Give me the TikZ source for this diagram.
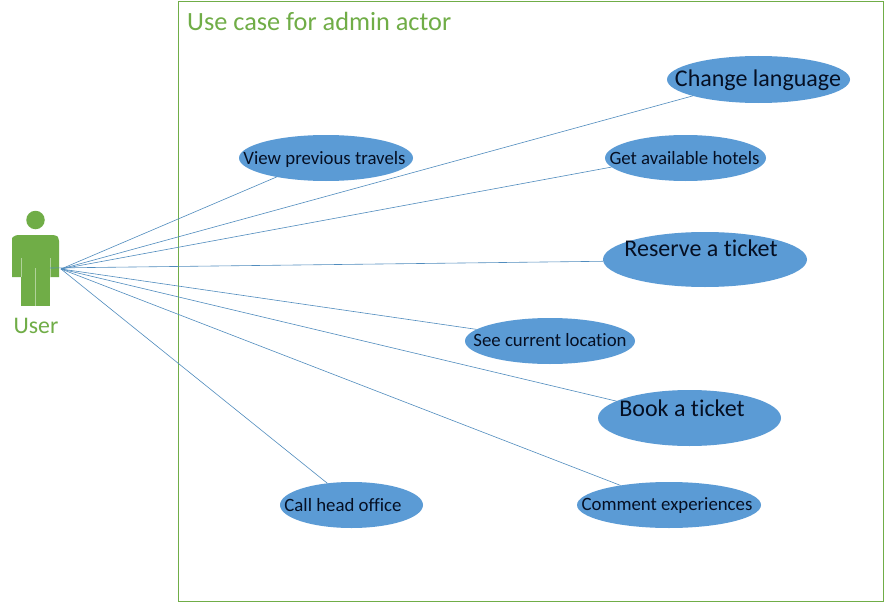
\documentclass[tikz,border=0pt]{standalone}
\usepackage{fontspec}
\setmainfont[Ligatures=NoCommon]{Carlito}
\usetikzlibrary{shapes.geometric}
\definecolor{grn}{RGB}{112,173,71}
\definecolor{blu}{RGB}{91,155,213}
\definecolor{lnk}{RGB}{80,140,190}
\definecolor{ink}{RGB}{5,15,35}
\tikzset{
  usecase/.style={ellipse,fill=blu,draw=none,inner sep=0pt,outer sep=0pt},
  ucsmall/.style={text=ink,inner sep=0pt,font=\fontsize{18.8}{20}\selectfont},
  ucbig/.style={text=ink,inner sep=0pt,font=\fontsize{24}{26}\selectfont},
  assoc/.style={draw=lnk,line width=0.6pt},
  greenlabel/.style={text=grn,inner sep=0pt},
  gap/.style={draw=grn!55!white,line width=0.8pt}
}
\begin{document}
\begin{tikzpicture}[x=1pt,y=-1pt]
\useasboundingbox (0,0) rectangle (884,602);
\fill[white] (0,0) rectangle (884,602);
\node[draw=grn,line width=0.7pt,inner sep=0pt,outer sep=0pt,minimum width=705pt,minimum height=600pt] (frame) at (531,301) {};
\node[greenlabel,anchor=base west,font=\fontsize{26.3}{28}\selectfont] (title) at (187,31) {Use case for admin actor};
% actor
\node[circle,fill=grn,inner sep=0pt,minimum size=18.5pt] (head) at (35.5,220) {};
\fill[grn] (12,277) -- (12,238) [rounded corners=3pt] -- (15,235) -- (56,235) -- (59,238) [sharp corners] -- (59,277) -- cycle;
\fill[grn] (21,260) rectangle (50,306);
\draw[gap] (21,258) -- (21,277);
\draw[gap] (50,258) -- (50,277);
\draw[gap] (35.5,268) -- (35.5,306);
\node[greenlabel,font=\fontsize{23.8}{26}\selectfont] (user) at (36,326) {User};
\coordinate (hub) at (61,269);
\coordinate (arm) at (50,268);
% use cases
\node[usecase,minimum width=174pt,minimum height=46pt] (view) at (326,158) {};
\node[usecase,minimum width=183pt,minimum height=47pt] (lang) at (758.5,79.5) {};
\node[usecase,minimum width=161pt,minimum height=46pt] (hotel) at (685.5,158) {};
\node[usecase,minimum width=204pt,minimum height=55pt] (resv) at (705,259.5) {};
\node[usecase,minimum width=170pt,minimum height=46pt] (locn) at (550,341) {};
\node[usecase,minimum width=183pt,minimum height=56pt] (book) at (689.5,418) {};
\node[usecase,minimum width=143pt,minimum height=46pt] (call) at (351.5,505) {};
\node[usecase,minimum width=184pt,minimum height=46pt] (comm) at (669,505) {};
% labels
\node[ucsmall] (t1) at (324.5,159) {View previous travels};
\node[ucbig] (t2) at (758,80) {Change language};
\node[ucsmall] (t3) at (684.5,158) {Get available hotels};
\node[ucbig] (t4) at (701,248.5) {Reserve a ticket};
\node[ucsmall] (t5) at (550,340) {See current location};
\node[ucbig] (t6) at (682,408.5) {Book a ticket};
\node[ucsmall] (t7) at (343,505) {Call head office};
\node[ucsmall] (t8) at (667,506) {Comment experiences};
% connectors
\draw[assoc] (hub) -- (view.201.8);
\draw[assoc] (hub) -- (lang.194.9);
\draw[assoc] (hub) -- (hotel.187.9);
\draw[assoc] (arm) -- (resv.181);
\draw[assoc] (hub) -- (locn.171.8);
\draw[assoc] (hub) -- (book.167);
\draw[assoc] (hub) -- (comm.158.8);
\draw[assoc] (hub) -- (call.138.7);
\end{tikzpicture}
\end{document}
